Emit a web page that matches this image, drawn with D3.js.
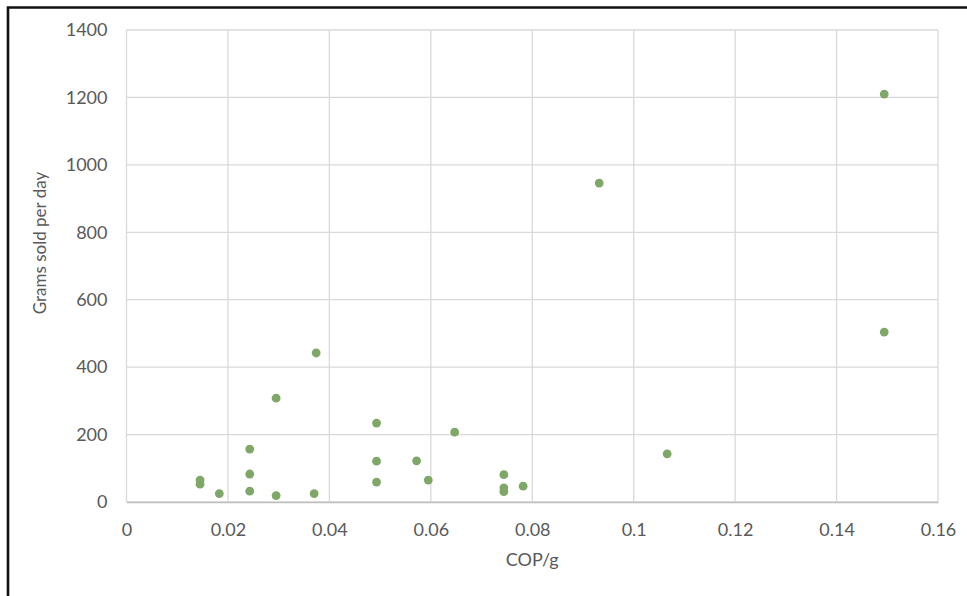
<!DOCTYPE html>
<html>
<head>
<meta charset="utf-8">
<script src="https://cdn.jsdelivr.net/npm/d3@7"></script>
<style>
  html, body { margin: 0; padding: 0; background: #ffffff; }
  svg { display: block; }
  text { font-family: Lato, "Open Sans", sans-serif; fill: #595959; }
</style>
</head>
<body>
<svg id="chart" width="967" height="596"></svg>
<script>
// Cost of production per gram vs. grams sold per day
const copPerGram = [0.0145, 0.0145, 0.0183, 0.0243, 0.0243, 0.0243, 0.0295, 0.0295,
  0.037, 0.0374, 0.0493, 0.0493, 0.0493, 0.0572, 0.0595, 0.0647, 0.0744, 0.0744,
  0.0744, 0.0782, 0.0932, 0.1066, 0.1494, 0.1494];
const gramsPerDay = [65, 53, 25, 157, 83, 32, 308, 19, 25, 442, 234, 121, 59, 122,
  65, 207, 81, 42, 31, 47, 946, 143, 1210, 504];
const xTicks = [0, 0.02, 0.04, 0.06, 0.08, 0.1, 0.12, 0.14, 0.16];
const yTicks = [0, 200, 400, 600, 800, 1000, 1200, 1400];
const xTitle = "COP/g";
const yTitle = "Grams sold per day";

const svg = d3.select("#chart");
const plot = { left: 126.5, right: 938, top: 30, bottom: 502 };
const font = "Lato, 'Open Sans', sans-serif";

const x = d3.scaleLinear().domain([0, 0.16]).range([plot.left, plot.right]);
const y = d3.scaleLinear().domain([0, 1400]).range([plot.bottom, plot.top]);

// outer frame (top and left edges visible)
svg.append("path")
  .attr("d", "M8,600 L8,7.5 L970,7.5")
  .attr("fill", "none")
  .attr("stroke", "#111")
  .attr("stroke-width", 2.6);

// gridlines
const grid = svg.append("g");
grid.selectAll("line.v").data(xTicks).join("line")
  .attr("x1", d => x(d)).attr("x2", d => x(d))
  .attr("y1", plot.top).attr("y2", plot.bottom)
  .attr("stroke", "#d9d9d9").attr("stroke-width", 1.3);
grid.selectAll("line.h").data(yTicks).join("line")
  .attr("x1", plot.left).attr("x2", plot.right)
  .attr("y1", d => y(d)).attr("y2", d => y(d))
  .attr("stroke", "#d9d9d9").attr("stroke-width", 1.3);

// axes
const xAxis = d3.axisBottom(x).tickValues(xTicks).tickSize(0).tickPadding(21)
  .tickFormat(d => d3.format("~g")(d));
svg.append("g").attr("transform", `translate(0,${plot.bottom})`).call(xAxis)
  .call(g => g.select(".domain").attr("stroke", "#bfbfbf").attr("stroke-width", 1.3))
  .call(g => g.selectAll("text").attr("font-size", 18).attr("fill", "#595959")
    .attr("font-family", font));

const yAxis = d3.axisLeft(y).tickValues(yTicks).tickSize(0).tickPadding(19)
  .tickFormat(d3.format("d"));
svg.append("g").attr("transform", `translate(${plot.left},0)`).call(yAxis)
  .call(g => g.select(".domain").remove())
  .call(g => g.selectAll("text").attr("font-size", 18).attr("fill", "#595959")
    .attr("font-family", font));

// axis titles
svg.append("text")
  .attr("x", (plot.left + plot.right) / 2).attr("y", 566)
  .attr("text-anchor", "middle").attr("font-size", 18)
  .text(xTitle);
svg.append("text")
  .attr("transform", "translate(46,243) rotate(-90)")
  .attr("text-anchor", "middle").attr("font-size", 17)
  .text(yTitle);

// points
svg.append("g").selectAll("circle")
  .data(copPerGram.map((c, i) => ({ c, g: gramsPerDay[i] })))
  .join("circle")
  .attr("cx", d => x(d.c))
  .attr("cy", d => y(d.g))
  .attr("r", 4.4)
  .attr("fill", "#7fa768");
</script>
</body>
</html>
